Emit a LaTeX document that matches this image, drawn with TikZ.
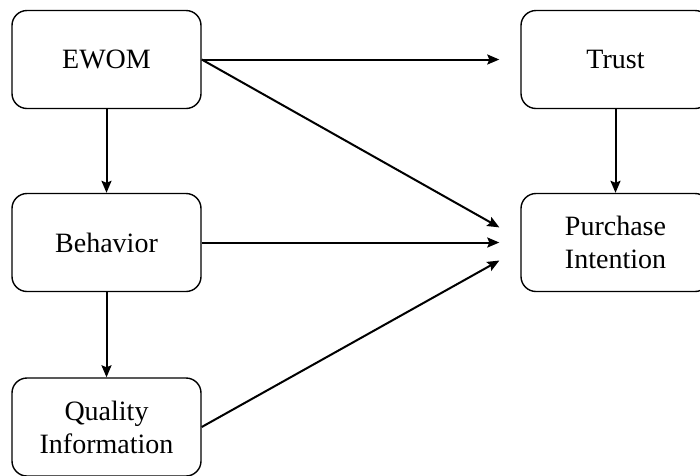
\documentclass[tikz,border=0pt]{standalone}
\usepackage{fontspec}
\setmainfont{Liberation Serif}
\usetikzlibrary{arrows.meta}
\begin{document}
\begin{tikzpicture}[x=1pt,y=-1pt,
  box/.style={draw, line width=1.4pt, rounded corners=15pt, minimum width=189pt, minimum height=98pt, align=center, inner sep=0pt,
    font=\fontsize{28}{33}\selectfont},
  arr/.style={line width=2pt, -{Stealth[length=12pt,width=10pt,inset=2pt]}}]
\useasboundingbox (0,0) rectangle (700,475);
\node[box] (ewom) at (106.5,59.5) {EWOM};
\node[box] (trust) at (615.5,59.5) {Trust};
\node[box] (beh) at (106.5,242.5) {Behavior};
\node[box] (pi) at (615.5,242.5) {Purchase\\Intention};
\node[box] (qi) at (106.5,427) {Quality\\Information};
\draw[arr, shorten >=21pt] (ewom.east) -- (trust.west);
\draw[arr, shorten >=24pt] (ewom.east) -- ([yshift=3.3pt]pi.west);
\draw[arr, shorten >=21pt] (beh.east) -- (pi.west);
\draw[arr, shorten >=24pt] (qi.east) -- ([yshift=-6.3pt]pi.west);
\draw[arr] (ewom.south) -- (beh.north);
\draw[arr] (beh.south) -- (qi.north);
\draw[arr] (trust.south) -- (pi.north);
\end{tikzpicture}
\end{document}
